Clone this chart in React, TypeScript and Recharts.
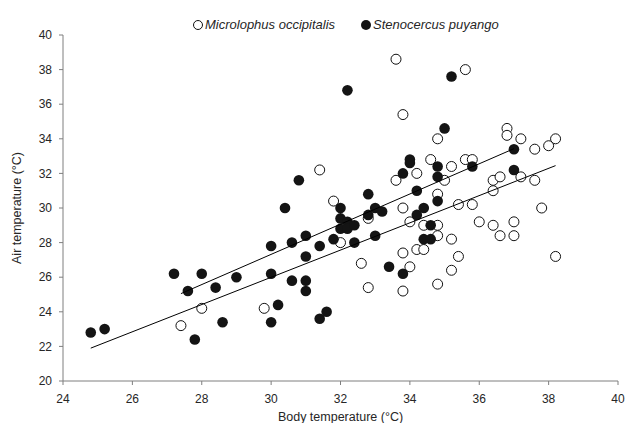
import { ScatterChart, Scatter, XAxis, YAxis, Legend } from 'recharts';

// Microlophus occipitalis (open circles)
const microBody = [
  27.4, 28.0, 29.8, 31.4, 31.8, 32.0, 32.6, 32.8, 32.8, 33.6, 33.6, 33.8, 33.8, 33.8,
  33.8, 34.0, 34.0, 34.2, 34.2, 34.4, 34.4, 34.6, 34.8, 34.8, 34.8, 34.8, 34.8, 35.0,
  35.2, 35.2, 35.2, 35.4, 35.4, 35.6, 35.6, 35.8, 35.8, 36.0, 36.4, 36.4, 36.4, 36.6,
  36.6, 36.8, 36.8, 37.0, 37.0, 37.2, 37.2, 37.6, 37.6, 37.8, 38.0, 38.2, 38.2,
];
const microAir = [
  23.2, 24.2, 24.2, 32.2, 30.4, 28.0, 26.8, 25.4, 29.4, 38.6, 31.6, 35.4, 30.0, 27.4,
  25.2, 29.2, 26.6, 32.0, 27.6, 27.6, 29.0, 32.8, 34.0, 30.8, 29.0, 28.4, 25.6, 31.6,
  32.4, 28.2, 26.4, 30.2, 27.2, 38.0, 32.8, 32.8, 30.2, 29.2, 31.6, 31.0, 29.0, 31.8,
  28.4, 34.6, 34.2, 29.2, 28.4, 34.0, 31.8, 33.4, 31.6, 30.0, 33.6, 34.0, 27.2,
];

// Stenocercus puyango (filled circles)
const stenoBody = [
  24.8, 25.2, 27.2, 27.6, 27.8, 28.0, 28.4, 28.6, 29.0, 30.0, 30.0, 30.0, 30.2, 30.4,
  30.6, 30.6, 30.8, 31.0, 31.0, 31.0, 31.0, 31.4, 31.4, 31.6, 31.8, 32.0, 32.0, 32.0,
  32.2, 32.2, 32.2, 32.4, 32.4, 32.8, 32.8, 33.0, 33.0, 33.2, 33.4, 33.8, 33.8, 34.0,
  34.0, 34.2, 34.2, 34.4, 34.4, 34.6, 34.6, 34.8, 34.8, 34.8, 35.0, 35.2, 35.8, 37.0, 37.0,
];
const stenoAir = [
  22.8, 23.0, 26.2, 25.2, 22.4, 26.2, 25.4, 23.4, 26.0, 27.8, 26.2, 23.4, 24.4, 30.0,
  28.0, 25.8, 31.6, 28.4, 27.2, 25.8, 25.2, 27.8, 23.6, 24.0, 28.2, 30.0, 29.4, 28.8,
  36.8, 29.2, 28.8, 29.0, 28.0, 30.8, 29.6, 30.0, 28.4, 29.8, 26.6, 32.0, 26.2, 32.8,
  32.6, 31.0, 29.6, 30.0, 28.2, 29.0, 28.2, 32.4, 31.8, 30.4, 34.6, 37.6, 32.4, 33.4, 32.2,
];

// trend line end points
const trendLowerBody = [24.8, 38.2];
const trendLowerAir = [21.9, 32.45];
const trendUpperBody = [27.4, 37.0];
const trendUpperAir = [25.05, 33.43];

const xTicks = [24, 26, 28, 30, 32, 34, 36, 38, 40];
const yTicks = [20, 22, 24, 26, 28, 30, 32, 34, 36, 38, 40];

const toPoints = (xs: number[], ys: number[]) => xs.map((x, i) => ({ x, y: ys[i] }));

const microData = toPoints(microBody, microAir);
const stenoData = toPoints(stenoBody, stenoAir);
const lowerLine = toPoints(trendLowerBody, trendLowerAir);
const upperLine = toPoints(trendUpperBody, trendUpperAir);

const FONT = '"Liberation Sans", Arial, sans-serif';
const AXIS = '#7f7f7f';
const TEXT = '#262626';

const OpenDot = (props: any) => (
  <circle cx={props.cx} cy={props.cy} r={5} fill="#fff" stroke="#111" strokeWidth={1} />
);
const FilledDot = (props: any) => <circle cx={props.cx} cy={props.cy} r={5.3} fill="#141414" />;
const NoDot = () => <g />;

const LegendContent = () => (
  <div style={{ position: 'relative', height: 16, fontFamily: FONT, fontSize: 13, fontStyle: 'italic', color: TEXT }}>
    <svg width={12} height={12} style={{ position: 'absolute', left: 0, top: 2 }}>
      <circle cx={6} cy={6} r={4.5} fill="#fff" stroke="#111" strokeWidth={1} />
    </svg>
    <span style={{ position: 'absolute', left: 13, top: 0, whiteSpace: 'nowrap' }}>Microlophus occipitalis</span>
    <svg width={12} height={12} style={{ position: 'absolute', left: 168, top: 2 }}>
      <circle cx={6} cy={6} r={5} fill="#141414" />
    </svg>
    <span style={{ position: 'absolute', left: 181, top: 0, whiteSpace: 'nowrap' }}>Stenocercus puyango</span>
  </div>
);

export default function App() {
  return (
    <div style={{ position: 'absolute', left: 0, top: 0, background: '#fff' }}>
      <ScatterChart width={629} height={423} margin={{ top: 19, right: 11, bottom: 0, left: 0 }}>
        <XAxis
          type="number"
          dataKey="x"
          domain={[24, 40]}
          ticks={xTicks}
          allowDataOverflow
          height={42}
          stroke={AXIS}
          tickSize={4}
          tickMargin={9}
          tick={{ fill: TEXT, fontSize: 12, fontFamily: FONT }}
          label={{ value: 'Body temperature (°C)', position: 'insideBottom', offset: 0, dy: -2, fill: TEXT, fontSize: 12.5, fontFamily: FONT }}
        />
        <YAxis
          type="number"
          dataKey="y"
          domain={[20, 40]}
          ticks={yTicks}
          allowDataOverflow
          width={63}
          stroke={AXIS}
          tickSize={4}
          tickMargin={7}
          tick={{ fill: TEXT, fontSize: 12, fontFamily: FONT }}
          label={{ value: 'Air temperature (°C)', angle: -90, position: 'insideLeft', offset: 17, style: { textAnchor: 'middle' }, fill: TEXT, fontSize: 12.5, fontFamily: FONT }}
        />
        <Legend verticalAlign="top" content={LegendContent} wrapperStyle={{ top: 17, left: 192, width: 340 }} />
        <Scatter name="Microlophus occipitalis" data={microData} shape={OpenDot} isAnimationActive={false} />
        <Scatter name="Stenocercus puyango" data={stenoData} shape={FilledDot} isAnimationActive={false} />
        <Scatter data={lowerLine} line={{ stroke: '#000', strokeWidth: 1 }} shape={NoDot} legendType="none" isAnimationActive={false} />
        <Scatter data={upperLine} line={{ stroke: '#000', strokeWidth: 1 }} shape={NoDot} legendType="none" isAnimationActive={false} />
      </ScatterChart>
    </div>
  );
}
